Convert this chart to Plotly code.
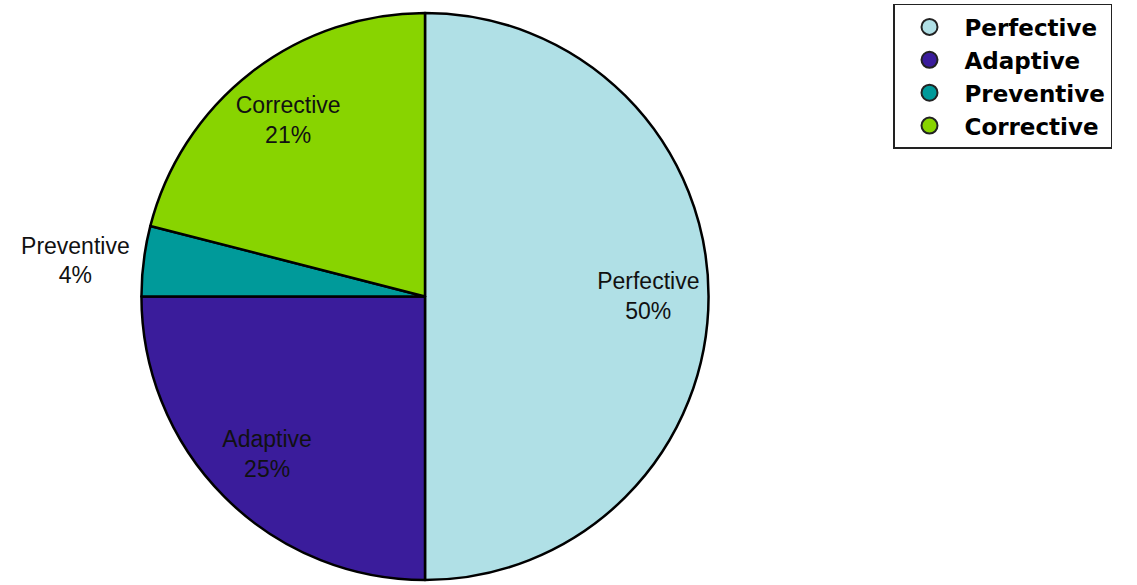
import plotly.graph_objects as go

labels = ["Perfective", "Adaptive", "Preventive", "Corrective"]
values = [50, 25, 4, 21]
colors = ["#b0e0e6", "#3a1c9b", "#009a9a", "#88d400"]
text_positions = ["inside", "inside", "outside", "inside"]

cx, cy, rad = 425, 299, 286
pie_domain = dict(x=[(cx - rad) / 1137, (cx + rad) / 1137],
                  y=[max(0, 1 - (cy + rad) / 585), 1 - (cy - rad) / 585])

fig = go.Figure()
# coloured slices
fig.add_trace(go.Pie(
    labels=labels, values=values, sort=False, direction="clockwise", rotation=0,
    marker=dict(colors=colors, line=dict(color="black", width=2.5)),
    textinfo="none", showlegend=False, hoverinfo="label+percent",
    domain=pie_domain,
))
# label layer (transparent ring so that labels sit near the rim)
fig.add_trace(go.Pie(
    labels=labels, values=values, sort=False, direction="clockwise", rotation=0,
    hole=0.575,
    marker=dict(colors=["rgba(0,0,0,0)"] * len(labels), line=dict(width=0)),
    texttemplate="%{label}<br>%{percent:.0%}",
    textposition=text_positions, insidetextorientation="horizontal",
    textfont=dict(family="Liberation Sans, Arial", size=23, color="#111111"),
    showlegend=False, hoverinfo="skip",
    domain=pie_domain,
))
for lab, col in zip(labels, colors):
    fig.add_trace(go.Scatter(
        x=[None], y=[None], mode="markers", name=lab,
        marker=dict(symbol="circle", size=24, color=col, line=dict(color="#222222", width=2)),
    ))

fig.update_layout(
    width=1137, height=585, margin=dict(l=0, r=0, t=0, b=0),
    paper_bgcolor="white", plot_bgcolor="white",
    xaxis=dict(visible=False), yaxis=dict(visible=False),
    legend=dict(x=893 / 1137, y=1 - 4 / 585, xanchor="left", yanchor="top",
                bordercolor="#222222", borderwidth=1.5, bgcolor="white",
                font=dict(family="DejaVu Sans", size=23, color="black", weight="bold"),
                itemwidth=60, tracegroupgap=0),
)
fig.write_html("out.html")
